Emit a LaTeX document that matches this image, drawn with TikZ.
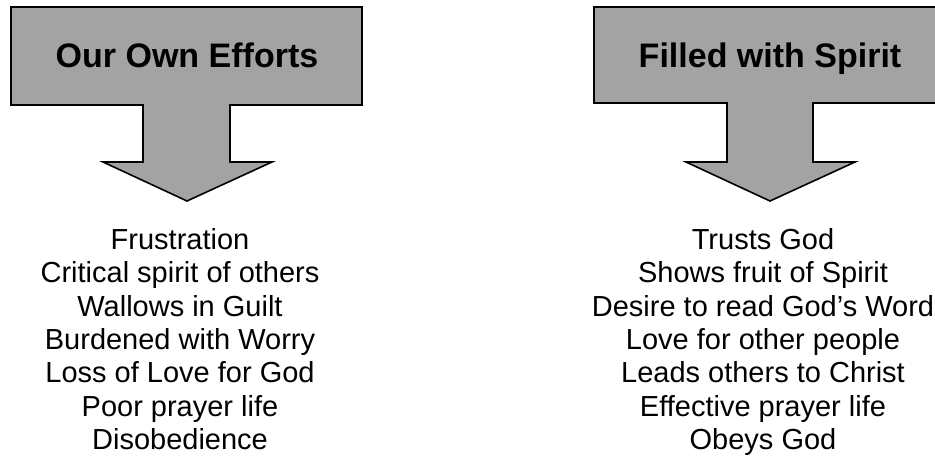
\documentclass[tikz,border=0pt]{standalone}
\usepackage{fontspec}
\setmainfont{Liberation Sans}
\usepackage{tikz}
\usetikzlibrary{positioning}
\usepackage{xcolor}

\definecolor{arrowgray}{HTML}{A3A3A3}

\begin{document}
\begin{tikzpicture}[x=1pt, y=-1pt,
	arrowbox/.style={draw=black, line width=1.6pt, fill=arrowgray, line join=miter},
	headtext/.style={anchor=base, font=\fontsize{34}{40}\selectfont\bfseries},
	listtext/.style={anchor=north, align=center, font=\fontsize{29}{33.4}\selectfont, inner sep=0pt}]
\useasboundingbox (0,0) rectangle (935,459);
\clip (0,0) rectangle (935,459);
% left arrow
\draw[arrowbox] (11,7) -- (362,7) -- (362,105) -- (230,105) -- (230,162) -- (272,162)
	-- (187,201) -- (103,162) -- (143,162) -- (143,105) -- (11,105) -- cycle;
\node[headtext] (own) at (187,67) {Our Own Efforts};
% right arrow
\draw[arrowbox] (594,7) -- (946,7) -- (946,103) -- (813,103) -- (813,162) -- (855,162)
	-- (770,201) -- (686,162) -- (727,162) -- (727,103) -- (594,103) -- cycle;
\node[headtext] (spirit) at (770,67) {Filled with Spirit};
% lists
\node[listtext] (ownlist) at (180,228) {Frustration\\Critical spirit of others\\Wallows in Guilt\\Burdened with Worry\\Loss of Love for God\\Poor prayer life\\Disobedience};
\node[listtext] (spiritlist) at (763,228) {Trusts God\\Shows fruit of Spirit\\Desire to read God's Word\\Love for other people\\Leads others to Christ\\Effective prayer life\\Obeys God};
\end{tikzpicture}
\end{document}
